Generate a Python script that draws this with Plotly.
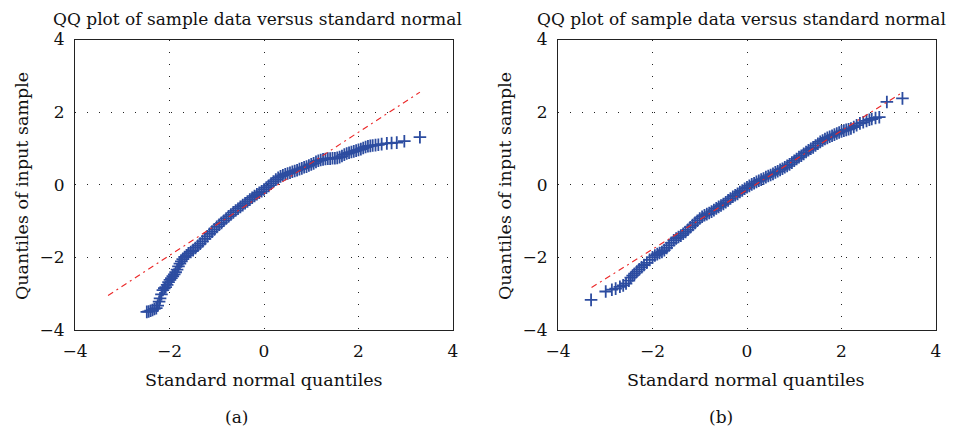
import plotly.graph_objects as go

# ---------------- data ----------------
# Panel (a): theoretical normal quantiles vs. sample quantiles
qa_x = [-2.48, -2.44, -2.40, -2.36, -2.32, -2.28, -2.25, -2.22, -2.20, -2.17,
        -2.14, -2.11, -2.08, -2.05, -2.02, -1.99, -1.96, -1.93, -1.90, -1.87,
        -1.84, -1.81, -1.78, -1.75, -1.72, -1.68, -1.64, -1.60, -1.55, -1.50,
        -1.45, -1.40, -1.35, -1.30, -1.25, -1.20, -1.15, -1.10, -1.05, -1.00,
        -0.95, -0.90, -0.85, -0.80, -0.75, -0.70, -0.65, -0.60, -0.55, -0.50,
        -0.45, -0.40, -0.35, -0.30, -0.25, -0.20, -0.15, -0.10, -0.05, 0.00,
        0.05, 0.10, 0.15, 0.20, 0.25, 0.30, 0.35, 0.40, 0.45, 0.50,
        0.55, 0.60, 0.65, 0.70, 0.75, 0.80, 0.85, 0.90, 0.95, 1.00,
        1.05, 1.10, 1.15, 1.20, 1.25, 1.30, 1.35, 1.40, 1.45, 1.50,
        1.55, 1.60, 1.65, 1.70, 1.75, 1.80, 1.85, 1.90, 1.95, 2.00,
        2.05, 2.10, 2.15, 2.20, 2.25, 2.30, 2.36, 2.42, 2.49, 2.60,
        2.70, 2.81, 2.97, 3.30]
qa_y = [-3.50, -3.49, -3.47, -3.45, -3.42, -3.40, -3.33, -3.22, -3.13, -3.02,
        -2.90, -2.85, -2.82, -2.76, -2.68, -2.62, -2.57, -2.52, -2.47, -2.41,
        -2.34, -2.25, -2.17, -2.11, -2.05, -1.99, -1.94, -1.89, -1.85, -1.80,
        -1.74, -1.68, -1.62, -1.56, -1.49, -1.42, -1.35, -1.29, -1.23, -1.16,
        -1.10, -1.05, -0.99, -0.93, -0.87, -0.82, -0.76, -0.71, -0.66, -0.61,
        -0.56, -0.51, -0.46, -0.41, -0.36, -0.31, -0.26, -0.22, -0.18, -0.13,
        -0.08, -0.03, 0.03, 0.09, 0.14, 0.19, 0.23, 0.26, 0.29, 0.31,
        0.33, 0.36, 0.38, 0.40, 0.43, 0.45, 0.48, 0.50, 0.53, 0.56,
        0.59, 0.63, 0.66, 0.68, 0.70, 0.71, 0.72, 0.72, 0.73, 0.73,
        0.74, 0.76, 0.79, 0.83, 0.86, 0.88, 0.90, 0.92, 0.94, 0.96,
        0.98, 1.01, 1.04, 1.06, 1.07, 1.08, 1.09, 1.10, 1.12, 1.14,
        1.15, 1.16, 1.20, 1.31]
ref_a_x = [-3.30, 3.30]
ref_a_y = [-3.05, 2.55]

# Panel (b)
qb_x = [-3.30, -2.99, -2.86, -2.78, -2.69, -2.62, -2.56, -2.50, -2.46, -2.42,
        -2.38, -2.33, -2.28, -2.23, -2.18, -2.12, -2.06, -2.00, -1.95, -1.90,
        -1.85, -1.80, -1.75, -1.70, -1.65, -1.60, -1.55, -1.50, -1.45, -1.40,
        -1.35, -1.30, -1.25, -1.20, -1.15, -1.10, -1.05, -1.00, -0.95, -0.90,
        -0.85, -0.80, -0.75, -0.70, -0.65, -0.60, -0.55, -0.50, -0.45, -0.40,
        -0.35, -0.30, -0.25, -0.20, -0.15, -0.10, -0.05, 0.00, 0.05, 0.10,
        0.15, 0.20, 0.25, 0.30, 0.35, 0.40, 0.45, 0.50, 0.55, 0.60,
        0.65, 0.70, 0.75, 0.80, 0.85, 0.90, 0.95, 1.00, 1.05, 1.10,
        1.15, 1.20, 1.25, 1.30, 1.35, 1.40, 1.45, 1.50, 1.55, 1.60,
        1.65, 1.70, 1.75, 1.80, 1.85, 1.90, 1.95, 2.00, 2.05, 2.10,
        2.15, 2.20, 2.26, 2.32, 2.39, 2.46, 2.53, 2.59, 2.64, 2.72,
        2.80, 2.96, 3.29]
qb_y = [-3.17, -2.94, -2.89, -2.86, -2.81, -2.77, -2.72, -2.64, -2.56, -2.50,
        -2.45, -2.39, -2.33, -2.27, -2.21, -2.15, -2.07, -2.00, -1.95, -1.91,
        -1.88, -1.85, -1.80, -1.74, -1.67, -1.60, -1.53, -1.48, -1.44, -1.40,
        -1.35, -1.30, -1.24, -1.17, -1.11, -1.05, -0.99, -0.93, -0.88, -0.84,
        -0.81, -0.78, -0.74, -0.70, -0.65, -0.61, -0.57, -0.53, -0.48, -0.43,
        -0.38, -0.33, -0.29, -0.25, -0.20, -0.16, -0.11, -0.07, -0.03, 0.01,
        0.04, 0.08, 0.11, 0.14, 0.17, 0.21, 0.24, 0.27, 0.30, 0.34,
        0.37, 0.41, 0.44, 0.48, 0.52, 0.56, 0.61, 0.66, 0.71, 0.76,
        0.80, 0.85, 0.90, 0.95, 0.99, 1.03, 1.08, 1.13, 1.18, 1.22,
        1.26, 1.29, 1.32, 1.35, 1.38, 1.41, 1.44, 1.47, 1.49, 1.51,
        1.53, 1.55, 1.59, 1.64, 1.69, 1.72, 1.76, 1.79, 1.81, 1.84,
        1.86, 2.28, 2.38]
ref_b_x = [-3.29, 3.30]
ref_b_y = [-2.83, 2.55]

tick_vals = [-4, -2, 0, 2, 4]
title_text = "QQ plot of sample data versus standard normal"
xlabel_text = "Standard normal quantiles"
ylabel_text = "Quantiles of input sample"
panel_labels = ["(a)", "(b)"]

# ---------------- styling ----------------
FONT = "DejaVu Serif"
BLUE = "rgb(44,76,160)"
RED = "rgb(235,40,40)"
OFF = 8                      # default body margin of the html page
W, H = 959 - OFF, 435 - OFF

def px_x(p):
    return (p - OFF) / W

def px_y(p):
    return 1 - (p - OFF) / H

fig = go.Figure()

marker = dict(symbol="cross-thin", size=9, color=BLUE, line=dict(color=BLUE, width=1.8))
fig.add_trace(go.Scatter(x=qa_x, y=qa_y, mode="markers", marker=marker,
                         xaxis="x", yaxis="y", showlegend=False))
fig.add_trace(go.Scatter(x=ref_a_x, y=ref_a_y, mode="lines",
                         line=dict(color=RED, width=1.1, dash="6px,4px,2px,4px"),
                         xaxis="x", yaxis="y", showlegend=False))
fig.add_trace(go.Scatter(x=qb_x, y=qb_y, mode="markers", marker=marker,
                         xaxis="x2", yaxis="y2", showlegend=False))
fig.add_trace(go.Scatter(x=ref_b_x, y=ref_b_y, mode="lines",
                         line=dict(color=RED, width=1.1, dash="6px,4px,2px,4px"),
                         xaxis="x2", yaxis="y2", showlegend=False))

ax_common = dict(
    range=[-4, 4], tickvals=tick_vals, showgrid=True, gridcolor="#222",
    griddash="1px,11px", gridwidth=1, zeroline=False, showline=True,
    mirror=True, linecolor="#222", linewidth=1, ticks="",
    tickfont=dict(family=FONT, size=17, color="#111"),
)

dom_a = [px_x(75), px_x(453)]
dom_b = [px_x(558), px_x(936)]
dom_y = [px_y(330), px_y(39.5)]

fig.update_layout(
    width=W, height=H,
    margin=dict(l=0, r=0, t=0, b=0, autoexpand=False),
    paper_bgcolor="white", plot_bgcolor="white",
    xaxis=dict(domain=dom_a, anchor="y", ticklabelstandoff=6, **ax_common),
    yaxis=dict(domain=dom_y, anchor="x", ticklabelstandoff=6, **ax_common),
    xaxis2=dict(domain=dom_b, anchor="y2", ticklabelstandoff=6, **ax_common),
    yaxis2=dict(domain=dom_y, anchor="x2", ticklabelstandoff=6, **ax_common),
)

ann = []
for cx_title, cx_xl, cx_yl, cx_pl, lab in [
    (258, 264, 22, 236, panel_labels[0]),
    (741, 746, 505, 721, panel_labels[1]),
]:
    ann.append(dict(text=title_text, x=px_x(cx_title), y=px_y(19), xref="paper", yref="paper",
                    xanchor="center", yanchor="middle", showarrow=False,
                    font=dict(family=FONT, size=17, color="#111")))
    ann.append(dict(text=xlabel_text, x=px_x(cx_xl), y=px_y(380), xref="paper", yref="paper",
                    xanchor="center", yanchor="middle", showarrow=False,
                    font=dict(family=FONT, size=17.5, color="#111")))
    ann.append(dict(text=ylabel_text, x=px_x(cx_yl), y=px_y(186), xref="paper", yref="paper",
                    xanchor="center", yanchor="middle", showarrow=False, textangle=-90,
                    font=dict(family=FONT, size=17.5, color="#111")))
    ann.append(dict(text=lab, x=px_x(cx_pl), y=px_y(417), xref="paper", yref="paper",
                    xanchor="center", yanchor="middle", showarrow=False,
                    font=dict(family=FONT, size=17, color="#111")))
fig.update_layout(annotations=ann)

fig.write_html("out.html")
